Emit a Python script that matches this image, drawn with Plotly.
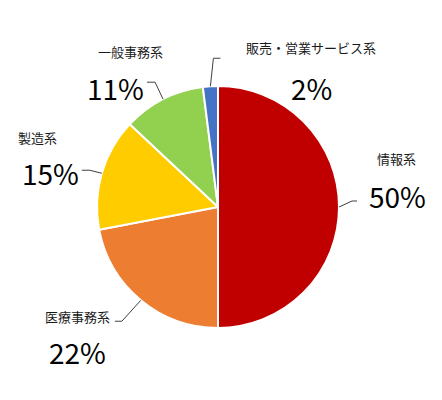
import math
import plotly.graph_objects as go

categories = ["情報系", "医療事務系", "製造系", "一般事務系", "販売・営業サービス系"]
values = [50, 22, 15, 11, 2]
pct_labels = ["50%", "22%", "15%", "11%", "2%"]
colors = ["#C00000", "#ED7D31", "#FFCC00", "#92D050", "#4472C4"]

W, H = 442, 400
CX, CY, R = 218, 207, 121
OFF = 8  # page body offset

def px(x):
    return (x - OFF) / W

def py(y):
    return 1 - (y - OFF) / H

# per-slice label layout (pixel): elbow offset from edge point, horizontal tail, name pos, pct pos
layout_info = [
    dict(elbow=(13, -6), tail=5, name=(396, 159), pct=(397, 196)),
    dict(elbow=(-19, 21), tail=-7, name=(77, 316), pct=(77, 352)),
    dict(elbow=(-12, -3), tail=-8, name=(38, 138), pct=(50, 173)),
    dict(elbow=(-8, -17), tail=-8, name=(130, 52), pct=(115, 88)),
    dict(elbow=(3, -28), tail=7, name=(311, 48), pct=(311, 88)),
]

fig = go.Figure()
fig.add_trace(go.Pie(
    labels=categories,
    values=values,
    sort=False,
    direction="clockwise",
    rotation=0,
    marker=dict(colors=colors, line=dict(color="white", width=2)),
    textinfo="none",
    showlegend=False,
    domain=dict(x=[px(CX - R), px(CX + R)], y=[py(CY + R), py(CY - R)]),
))

shapes = []
annotations = []
total = sum(values)
cum = 0
font_family = "Noto Sans CJK JP, Noto Sans, sans-serif"
for i, v in enumerate(values):
    mid = (cum + v / 2) / total * 2 * math.pi
    cum += v
    ex = CX + R * math.sin(mid)
    ey = CY - R * math.cos(mid)
    info = layout_info[i]
    bx, by = ex + info["elbow"][0], ey + info["elbow"][1]
    tx, ty = bx + info["tail"], by
    path = f"M {px(ex)} {py(ey)} L {px(bx)} {py(by)} L {px(tx)} {py(ty)}"
    shapes.append(dict(type="path", xref="paper", yref="paper", path=path,
                       line=dict(color="#404040", width=1)))
    nx, ny = info["name"]
    annotations.append(dict(x=px(nx), y=py(ny), xref="paper", yref="paper",
                            text=categories[i], showarrow=False,
                            xanchor="center", yanchor="middle",
                            font=dict(family=font_family, size=13, color="#1a1a1a")))
    qx, qy = info["pct"]
    annotations.append(dict(x=px(qx), y=py(qy), xref="paper", yref="paper",
                            text=pct_labels[i], showarrow=False,
                            xanchor="center", yanchor="middle",
                            font=dict(family=font_family, size=28, color="#000000")))

fig.update_layout(
    width=W, height=H,
    margin=dict(l=0, r=0, t=0, b=0),
    paper_bgcolor="white",
    plot_bgcolor="white",
    shapes=shapes,
    annotations=annotations,
)

fig.write_html("out.html")
